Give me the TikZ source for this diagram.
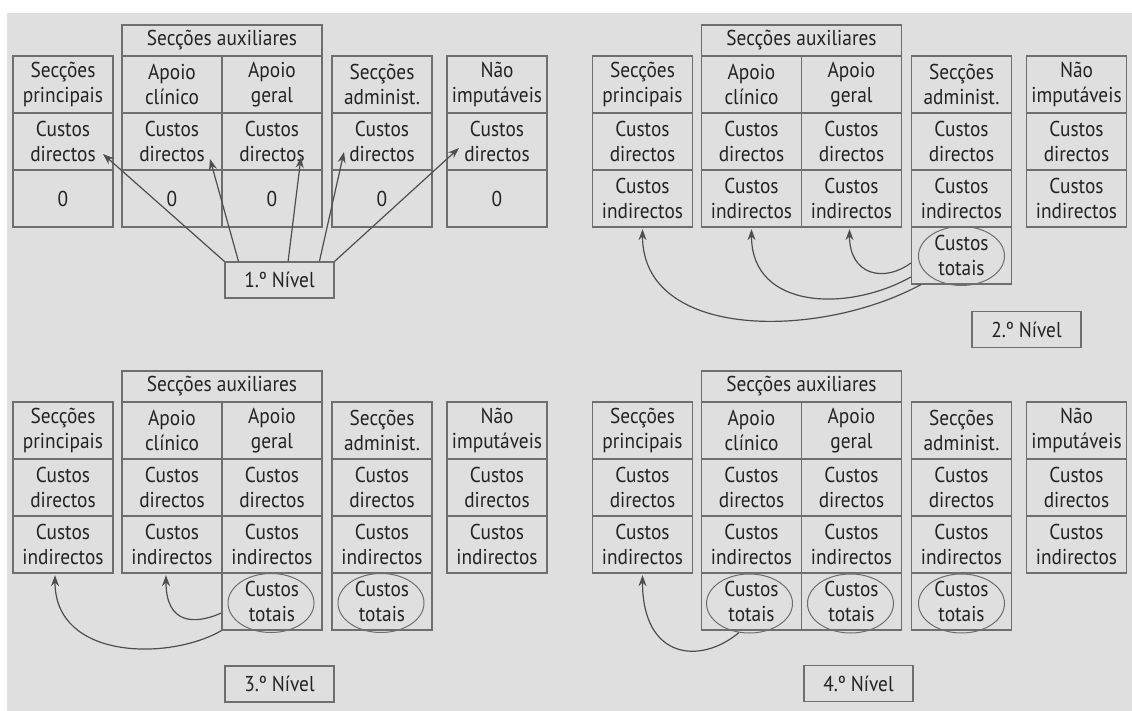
\documentclass[tikz,border=0pt]{standalone}
\usepackage{fontspec}
\setmainfont{PT Sans}[FakeStretch=0.9]
\usetikzlibrary{shapes.geometric,arrows.meta,calc}
\definecolor{bgc}{RGB}{223,223,223}
\definecolor{bordc}{RGB}{110,110,110}
\definecolor{txtc}{RGB}{35,35,35}
\definecolor{arrc}{RGB}{78,78,78}
\newcommand\cellfont{\fontsize{21.5}{25}\selectfont}
% #1 name prefix, #2 x of first column centre, #3 y of header top, #4 third-row text
\newcommand\Panel[4]{%
  \node[hdr] (#1hd) at (#2+159,#3+15.5) {Secções auxiliares};
  \foreach \k/\dx/\lab in {p/0/{Secções\\principais},c/109/{Apoio\\clínico},g/209/{Apoio\\geral},d/319/{Secções\\administ.},n/434/{Não\\imputáveis}}{%
    \node[cell] (#1\k1) at (#2+\dx,#3+59.5) {\lab};
    \node[cell] (#1\k2) at (#2+\dx,#3+116.5) {Custos\\directos};
    \node[cell] (#1\k3) at (#2+\dx,#3+173.5) {#4};
  }%
}
\begin{document}
\begin{tikzpicture}[x=1pt,y=-1pt,
  cell/.style={draw=bordc,line width=1.3pt,minimum width=100pt,minimum height=57pt,
    inner sep=0pt,align=center,font=\cellfont,text=txtc},
  hdr/.style={cell,minimum width=200pt,minimum height=31pt},
  lvl/.style={draw=bordc,line width=1.3pt,minimum width=109pt,minimum height=36pt,
    inner sep=0pt,font=\cellfont,text=txtc},
  tot/.style={ellipse,draw=bordc,line width=1pt,minimum width=86pt,minimum height=59pt,inner sep=0pt},
  arr/.style={draw=arrc,line width=1.2pt,-{Stealth[length=11pt,width=8pt]}}]
\useasboundingbox (0,0) rectangle (1132,711);
\fill[white] (0,0) rectangle (1132,711);
\fill[bgc] (7,13) rectangle (1132,711);

% ---------- Panel 1 ----------
\Panel{a}{63}{25}{0}
\node[lvl] (n1) at (279.5,280) {1.º Nível};

% ---------- Panel 2 ----------
\Panel{b}{642.5}{25}{Custos\\indirectos}
\node[cell] (bd4) at (961.5,255.5) {Custos\\totais};
\node[tot] (bde) at (961.5,256) {};
\node[lvl] (n2) at (1026.5,329.5) {2.º Nível};

% ---------- Panel 3 ----------
\Panel{c}{63}{371}{Custos\\indirectos}
\node[cell] (cg4) at (272,601.5) {Custos\\totais};
\node[tot] (cge) at (271,603) {};
\node[cell] (cd4) at (382,601.5) {Custos\\totais};
\node[tot] (cde) at (381,603) {};
\node[lvl] (n3) at (279.5,684) {3.º Nível};

% ---------- Panel 4 ----------
\Panel{d}{642.5}{371}{Custos\\indirectos}
\node[cell] (dc4) at (751.5,601.5) {Custos\\totais};
\node[tot] (dce) at (749.5,603.5) {};
\node[cell] (dg4) at (851.5,601.5) {Custos\\totais};
\node[tot] (dge) at (850.5,603.5) {};
\node[cell] (dd4) at (961.5,601.5) {Custos\\totais};
\node[tot] (dde) at (961.5,603.5) {};
\node[lvl] (n4) at (858.5,683.5) {4.º Nível};

% ---------- arrows panel 1 ----------
\coordinate (t1) at (103,154);
\coordinate (t2) at (210,159);
\coordinate (t3) at (301,157);
\coordinate (t4) at (344,152);
\coordinate (t5) at (459,148);
\draw[arr] (n1.north west) -- (t1);
\draw[arr] ($(n1.north west)!0.128!(n1.north east)$) -- (t2);
\draw[arr] ($(n1.north west)!0.578!(n1.north east)$) -- (t3);
\draw[arr] ($(n1.north west)!0.862!(n1.north east)$) -- (t4);
\draw[arr] (n1.north east) -- (t5);

% ---------- arrows panel 2 ----------
\draw[arr] ($(bd4.west)+(0,7.5)$) .. controls +(-27,20) and +(0,46) .. ($(bg3.south)+(-2,1.5)$);
\draw[arr] ($(bd4.west)+(0,21.5)$) .. controls +(-62,35) and +(0,81) .. ($(bc3.south)+(0,1.5)$);
\draw[arr] ($(bd4.south west)+(10,0)$) .. controls +(-102,55) and +(0,111) .. ($(bp3.south)+(0,1.5)$);

% ---------- arrows panel 3 ----------
\draw[arr] ($(cg4.west)+(0,11.5)$) .. controls +(-27,12) and +(0,49) .. ($(cc3.south)+(-6,1.5)$);
\draw[arr] (cg4.south west) .. controls +(-52,30) and +(0,85) .. ($(cp3.south)+(-8,1.5)$);

% ---------- arrow panel 4 ----------
\draw[arr] (dce.250) .. controls +(-38,32) and +(0,85) .. ($(dp3.south)+(0,1.5)$);
\end{tikzpicture}
\end{document}
